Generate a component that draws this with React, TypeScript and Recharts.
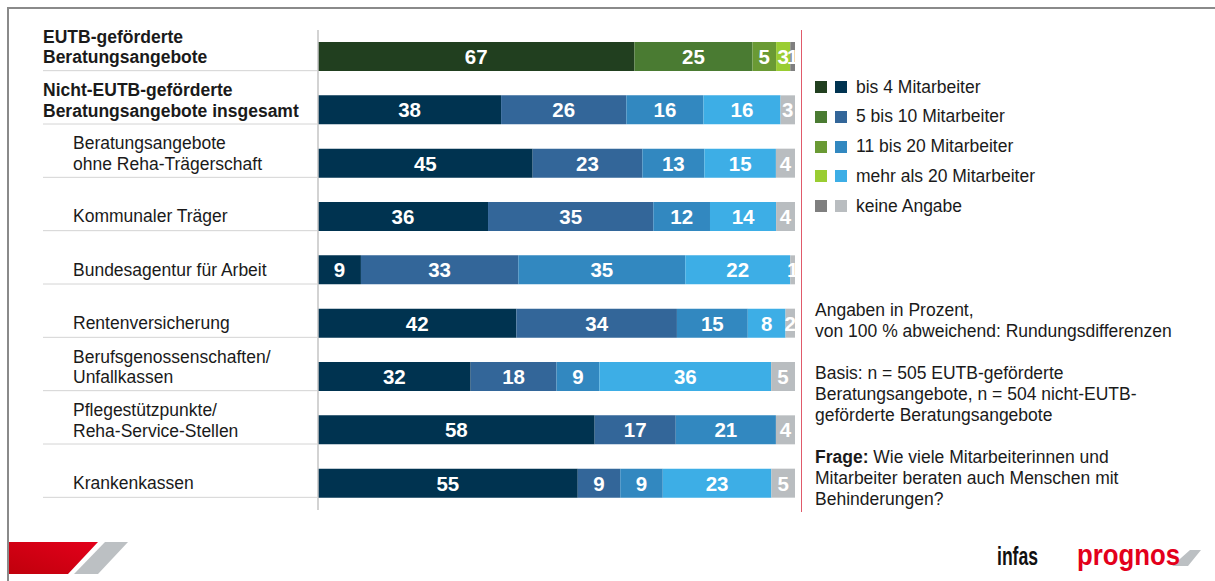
import React from 'react';
import { BarChart, Bar, XAxis, YAxis, LabelList, Cell } from 'recharts';

const categories = [
  'EUTB-geförderte|Beratungsangebote',
  'Nicht-EUTB-geförderte|Beratungsangebote insgesamt',
  'Beratungsangebote|ohne Reha-Trägerschaft',
  'Kommunaler Träger',
  'Bundesagentur für Arbeit',
  'Rentenversicherung',
  'Berufsgenossenschaften/|Unfallkassen',
  'Pflegestützpunkte/|Reha-Service-Stellen',
  'Krankenkassen',
];
const boldRows = [true, true, false, false, false, false, false, false, false];

const bis4 = [67, 38, 45, 36, 9, 42, 32, 58, 55];
const bis10 = [25, 26, 23, 35, 33, 34, 18, 17, 9];
const bis20 = [5, 16, 13, 12, 35, 15, 9, 21, 9];
const mehr20 = [3, 16, 15, 14, 22, 8, 36, 0, 23];
const keine = [1, 3, 4, 4, 1, 2, 5, 4, 5];

const seriesNames = ['bis 4 Mitarbeiter', '5 bis 10 Mitarbeiter', '11 bis 20 Mitarbeiter', 'mehr als 20 Mitarbeiter', 'keine Angabe'];
const seriesKeys = ['bis4', 'bis10', 'bis20', 'mehr20', 'keine'];
const seriesValues = [bis4, bis10, bis20, mehr20, keine];
const greenColors = ['#213f1f', '#4a7b32', '#6a9a34', '#9acd32', '#7f7f7f'];
const blueColors = ['#003350', '#336699', '#3288c0', '#3daee6', '#b9bdc0'];

const notes1 = ['Angaben in Prozent,', 'von 100 % abweichend: Rundungsdifferenzen'];
const notes2 = ['Basis: n = 505 EUTB-geförderte', 'Beratungsangebote, n = 504 nicht-EUTB-', 'geförderte Beratungsangebote'];
const frageLabel = 'Frage:';
const notes3 = [' Wie viele Mitarbeiterinnen und', 'Mitarbeiter beraten auch Menschen mit', 'Behinderungen?'];

const data = categories.map((name, i) => {
  const row: any = { name };
  seriesKeys.forEach((k, s) => (row[k] = seriesValues[s][i]));
  return row;
});

const FONT = '"Liberation Sans", Arial, Helvetica, sans-serif';
const TXT = 17.5;

const CatTick = (props: any) => {
  const { y, payload, index } = props;
  const i = typeof index === 'number' ? index : categories.indexOf(payload.value);
  const lines = String(payload.value).split('|');
  const bold = boldRows[i];
  const x = bold ? 43 : 73;
  const baseY = lines.length === 1 ? y + 5.5 : y - 14;
  return (
    <g>
      <text x={x} y={baseY} fontFamily={FONT} fontSize={TXT} fontWeight={bold ? 700 : 400} fill="#1a1a1a" textAnchor="start">
        {lines.map((l, k) => (
          <tspan key={k} x={x} y={baseY + k * 20.5}>{l}</tspan>
        ))}
      </text>
      <line x1={43} x2={318} y1={y + 14} y2={y + 14} stroke="#d4d4d4" strokeWidth={1} />
    </g>
  );
};

const makeLabel = (s: number) => (props: any) => {
  const vb = props.viewBox || {};
  const x = props.x ?? vb.x;
  const y = props.y ?? vb.y;
  const width = props.width ?? vb.width;
  const height = props.height ?? vb.height;
  let v = props.value;
  if (typeof v !== 'number') v = typeof props.index === 'number' ? seriesValues[s][props.index] : null;
  if (!v) return null;
  return (
    <text x={x + width / 2} y={y + height / 2} dy="0.36em" textAnchor="middle" fill="#ffffff" fontFamily={FONT} fontSize={20.5} fontWeight={700}>
      {v}
    </text>
  );
};

export default function App() {
  return (
    <div style={{ position: 'absolute', left: 0, top: 0, width: 1215, height: 581, background: '#fff', overflow: 'hidden', fontFamily: FONT }}>
      {/* frame */}
      <div style={{ position: 'absolute', left: 8, top: 7, width: 1207, height: 2, background: '#8a8a8a' }} />
      <div style={{ position: 'absolute', left: 7, top: 7, width: 2, height: 574, background: '#8a8a8a' }} />

      <div style={{ position: 'absolute', left: 0, top: 0 }}>
        <BarChart
          width={1215}
          height={581}
          data={data}
          layout="vertical"
          stackOffset="expand"
          barSize={29}
          margin={{ top: 30, right: 420, bottom: 71, left: 0 }}
        >
          <XAxis type="number" hide domain={[0, 1]} />
          <YAxis
            type="category"
            dataKey="name"
            width={318}
            interval={0}
            tickLine={false}
            axisLine={{ stroke: '#c4c4c4', strokeWidth: 1.5 }}
            tick={<CatTick />}
          />
          {seriesKeys.map((k, s) => (
            <Bar key={k} dataKey={k} name={seriesNames[s]} stackId="a" isAnimationActive={false}>
              {data.map((_, i) => (
                <Cell key={i} fill={i === 0 ? greenColors[s] : blueColors[s]} />
              ))}
              <LabelList dataKey={k} content={makeLabel(s)} />
            </Bar>
          ))}
        </BarChart>
      </div>

      {/* red vertical line */}
      <div style={{ position: 'absolute', left: 801, top: 30, width: 1.2, height: 482, background: '#e05a6a' }} />

      {/* legend */}
      {seriesNames.map((n, s) => (
        <div key={n} style={{ position: 'absolute', left: 815, top: 87 + s * 29.8 - 10, height: 20, display: 'flex', alignItems: 'center' }}>
          <div style={{ width: 12, height: 12, background: greenColors[s] }} />
          <div style={{ width: 12, height: 12, background: blueColors[s], marginLeft: 8 }} />
          <div style={{ marginLeft: 9, fontSize: TXT, color: '#1a1a1a', whiteSpace: 'nowrap' }}>{n}</div>
        </div>
      ))}

      {/* notes */}
      <div style={{ position: 'absolute', left: 815, top: 300, fontSize: TXT, lineHeight: '21px', color: '#1a1a1a', whiteSpace: 'nowrap' }}>
        {notes1.map((l) => <div key={l}>{l}</div>)}
        <div style={{ height: 21 }} />
        {notes2.map((l) => <div key={l}>{l}</div>)}
        <div style={{ height: 21 }} />
        <div><b>{frageLabel}</b>{notes3[0]}</div>
        <div>{notes3[1]}</div>
        <div>{notes3[2]}</div>
      </div>

      {/* footer logos */}
      <svg style={{ position: 'absolute', left: 0, top: 0 }} width={1215} height={581}>
        <defs>
          <linearGradient id="redg" x1="0" y1="1" x2="1" y2="0">
            <stop offset="0" stopColor="#c0000c" />
            <stop offset="1" stopColor="#e3001b" />
          </linearGradient>
        </defs>
        <polygon points="9,542 98,542 68,574 9,574" fill="url(#redg)" />
        <polygon points="105,542 128,542 98,574 74,574" fill="#bcc0c3" />
        <text x={997} y={565} fontFamily='"Liberation Sans Narrow", "Liberation Sans", Arial, sans-serif' fontWeight={700} fontSize={26} textLength={41} lengthAdjust="spacingAndGlyphs" fill="#111">infas</text>
        <polygon points="1172,566 1188,566 1201,550 1190,550" fill="#bcc0c3" />
        <text x={1077} y={565} fontFamily={FONT} fontWeight={700} fontSize={30} textLength={103} lengthAdjust="spacingAndGlyphs" fill="#e3001b">prognos</text>
      </svg>
    </div>
  );
}
